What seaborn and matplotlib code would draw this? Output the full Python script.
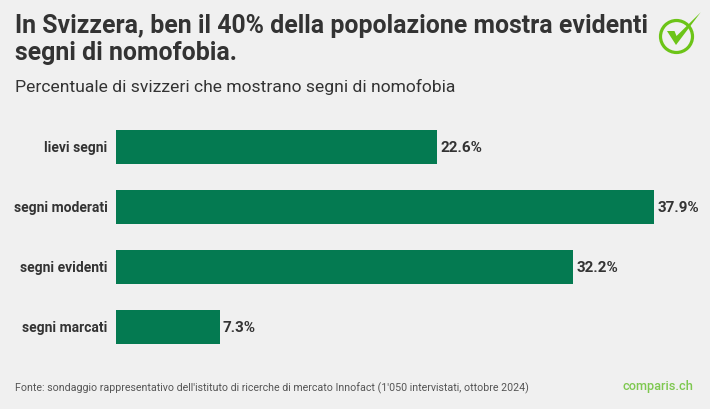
import matplotlib
matplotlib.use('Agg')
import matplotlib.pyplot as plt
from matplotlib.patches import Circle, Polygon
import pandas as pd
import seaborn as sns

# Values
categories = ['lievi segni', 'segni moderati', 'segni evidenti', 'segni marcati']
values = [22.6, 37.9, 32.2, 7.3]
value_labels = ['22.6%', '37.9%', '32.2%', '7.3%']

title = 'In Svizzera, ben il 40% della popolazione mostra evidenti\nsegni di nomofobia.'
subtitle = 'Percentuale di svizzeri che mostrano segni di nomofobia'
source = "Fonte: sondaggio rappresentativo dell'istituto di ricerche di mercato Innofact (1'050 intervistati, ottobre 2024)"

BG = '#f0f0f0'
BAR = '#047a51'
TEXT = '#333333'
LOGO = '#6cc417'
W, H = 710, 410

sns.set_theme(style='white')
plt.rcParams['font.family'] = ['Roboto', 'DejaVu Sans']

df = pd.DataFrame({'categoria': categories, 'valore': values})

fig = plt.figure(figsize=(W / 100, H / 100), dpi=100, facecolor=BG)
# axes placed in pixels: 116-654 wide, 118-358 tall
ax = fig.add_axes([116 / W, 1 - 358 / H, 538 / W, 240 / H], facecolor=BG)
sns.barplot(data=df, x='valore', y='categoria', color=BAR, saturation=1, width=0.57,
            linewidth=0, ax=ax)
ax.set_xlim(0, 37.9)
ax.set_ylim(3.5, -0.5)
ax.set_xlabel('')
ax.set_ylabel('')
ax.set_xticks([])
sns.despine(ax=ax, left=True, bottom=True)
ax.tick_params(axis='y', length=0, pad=6)
for lab in ax.get_yticklabels():
    lab.set_fontsize(10)
    lab.set_fontweight('semibold')
    lab.set_color(TEXT)
    lab.set_verticalalignment('center')

for cont in ax.containers:
    ax.bar_label(cont, labels=value_labels, padding=2.3, fontsize=11, fontweight='bold',
                 color=TEXT, clip_on=False)

fig.text(15 / W, 1 - 14 / H, title, fontsize=17.95, fontweight='bold', color=TEXT,
         va='top', linespacing=1.18)
fig.text(15 / W, 1 - 87 / H, subtitle, fontsize=12.58, color=TEXT, va='center')
fig.text(15 / W, 1 - 388 / H, source, fontsize=7.65, color='#555555', va='center')
fig.text(693.5 / W, 1 - 387 / H, 'comparis.ch', fontsize=9.2, fontweight='medium', color='#7ec850',
         ha='right', va='center')

# logo, drawn on an overlay in pixel coordinates
ov = fig.add_axes([0, 0, 1, 1], facecolor='none')
ov.set_xlim(0, W)
ov.set_ylim(H, 0)
ov.axis('off')
ov.add_patch(Circle((676.5, 37.5), 16, fill=False, edgecolor=LOGO, linewidth=2.3))
ov.add_patch(Polygon([(667, 32), (674.5, 32), (676.5, 37), (700.7, 13.3), (676, 46)],
                     closed=True, facecolor=LOGO, edgecolor='none'))

fig.savefig('out.png', dpi=100, facecolor=BG)
